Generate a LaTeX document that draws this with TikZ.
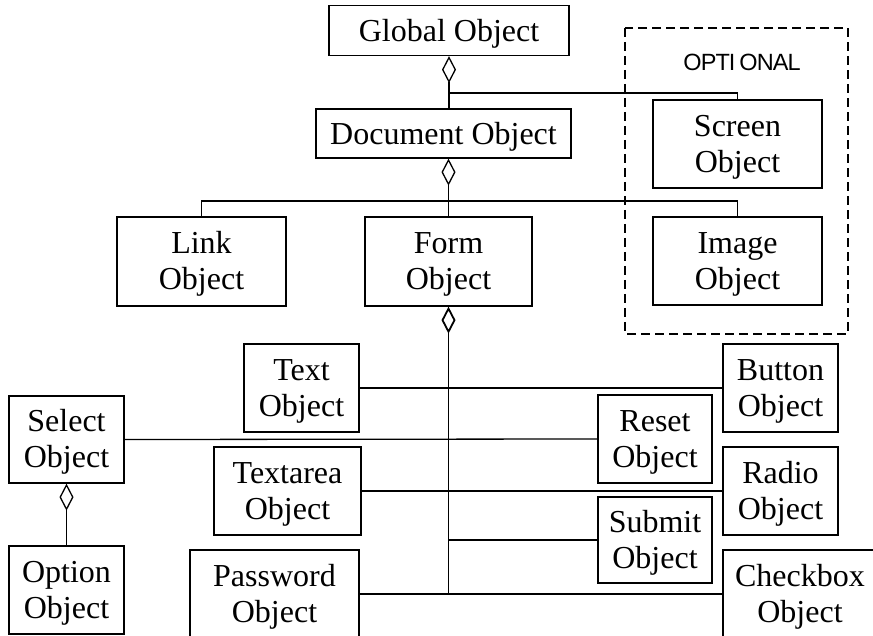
\documentclass[tikz,border=0pt]{standalone}
\usepackage{fontspec}
\setmainfont{Liberation Serif}
\newfontfamily\optfont[LetterSpace=-4]{Liberation Sans}
\usetikzlibrary{arrows.meta}
\newcommand\upone{\rule{0pt}{29pt}}
\newcommand\uptwo{\rule{0pt}{27pt}}
\tikzset{
  obj/.style={draw, line width=1.3pt, inner sep=0pt, align=center,
    font=\fontsize{32}{36}\selectfont},
  link/.style={line width=1.3pt},
  agg/.style={line width=1.3pt, {Diamond[open,length=27pt,width=14pt]}-},
  optbox/.style={draw, line width=1.8pt, dash pattern=on 9pt off 5pt}
}
\begin{document}
\begin{tikzpicture}[x=1pt,y=-1pt]
\useasboundingbox (0,0) rectangle (873,636);
\clip (0,0) rectangle (873,636);
% optional group
\draw[optbox] (625,28) rectangle (848,334);
\node[font=\optfont\fontsize{23.5}{26}\selectfont] (optlabel) at (742,62) {OPTI\kern4pt ONAL};
% nodes
\node[obj, minimum width=240, minimum height=50] (global) at (449,30.5) {\upone Global Object};
\node[obj, minimum width=255, minimum height=49] (document) at (443.5,133.5) {\upone Document Object};
\node[obj, minimum width=169, minimum height=88] (screen) at (737.5,144) {\uptwo Screen\\Object};
\node[obj, minimum width=169, minimum height=88] (image) at (737.5,261) {\uptwo Image\\Object};
\node[obj, minimum width=169, minimum height=89] (link) at (201.5,261.5) {\uptwo Link\\Object};
\node[obj, minimum width=167, minimum height=89] (form) at (448.5,261.5) {\uptwo Form\\Object};
\node[obj, minimum width=115, minimum height=88] (text) at (301.5,388) {\uptwo Text\\Object};
\node[obj, minimum width=115, minimum height=87] (select) at (66.5,439.5) {\uptwo Select\\Object};
\node[obj, minimum width=115, minimum height=88] (option) at (66.5,590) {\uptwo Option\\Object};
\node[obj, minimum width=147, minimum height=88] (textarea) at (287.5,491) {\uptwo Textarea\\Object};
\node[obj, minimum width=169, minimum height=88] (password) at (274.5,594) {\uptwo Password\\Object};
\node[obj, minimum width=115, minimum height=88] (button) at (780.5,388) {\uptwo Button\\Object};
\node[obj, minimum width=114, minimum height=88] (reset) at (655,439) {\uptwo Reset\\Object};
\node[obj, minimum width=115, minimum height=88] (radio) at (780.5,491) {\uptwo Radio\\Object};
\node[obj, minimum width=114, minimum height=86] (submit) at (655,540) {\uptwo Submit\\Object};
\node[obj, minimum width=154, minimum height=88] (checkbox) at (800,594) {\uptwo Checkbox\\Object};
% junctions
\coordinate (j1) at (global.south |- 0,93);
\coordinate (j2) at (form.north |- 0,201);
% connectors
\draw[agg] (global.south) -- (global.south |- document.north);
\draw[link] (j1) -| (screen.north);
\draw[agg] (document.south -| form.north) -- (form.north);
\draw[link] (link.north) |- (j2) -| (image.north);
\draw[agg, line width=1.8pt] (form.south) -- (form.south |- password.east);
\draw[link] (text.east) -- (button.west);
\draw[link] (select.east) -- (reset.west);
\draw[link] (textarea.east) -- (radio.west);
\draw[link] (form.south |- submit.west) -- (submit.west);
\draw[link] (password.east) -- (checkbox.west);
\draw[agg] (select.south) -- (option.north);
\end{tikzpicture}
\end{document}
